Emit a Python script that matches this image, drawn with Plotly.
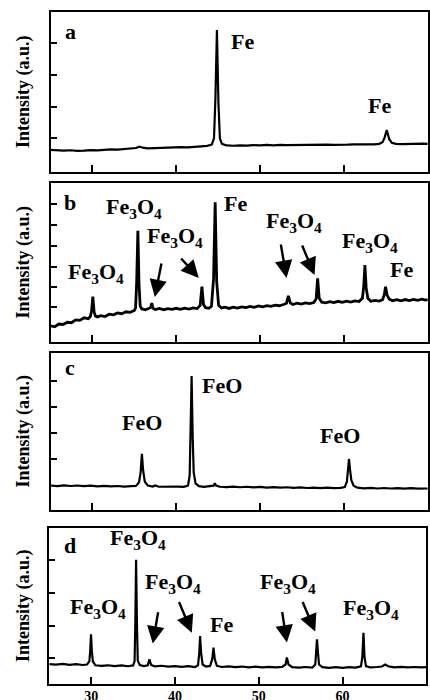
import plotly.graph_objects as go

# ---- XRD patterns, (2-theta in degrees, intensity in a.u.) ----
pattern_a = [
    (25.0, 13.8), (25.8, 13.5), (26.6, 13.3), (27.4, 13.6), (28.2, 13.2), (29.0, 13.4),
    (29.8, 13.7), (30.6, 13.5), (31.4, 13.9), (32.2, 14.1), (33.0, 14.0), (33.8, 14.3),
    (34.6, 14.5), (35.2, 15.0), (35.6, 15.9), (36.0, 15.2), (36.6, 14.8), (37.4, 15.0),
    (38.2, 14.9), (39.0, 15.3), (39.8, 15.2), (40.6, 15.5), (41.4, 15.4), (42.2, 15.7),
    (43.0, 15.9), (43.7, 16.3), (44.25, 17.2), (44.5, 21.0), (44.67, 46.0), (44.85, 88.7),
    (45.03, 43.0), (45.2, 21.0), (45.45, 17.6), (46.0, 16.6), (46.8, 16.4), (47.6, 16.7),
    (48.4, 16.5), (49.2, 16.8), (50.0, 16.6), (50.8, 16.9), (51.6, 16.7), (52.4, 17.0),
    (53.2, 16.8), (54.0, 16.9), (54.8, 17.1), (55.6, 16.9), (56.4, 17.2), (57.2, 17.0),
    (58.0, 17.1), (58.8, 16.9), (59.6, 17.2), (60.4, 17.1), (61.2, 17.3), (62.0, 17.2),
    (62.8, 17.4), (63.6, 17.3), (64.2, 17.6), (64.6, 18.6), (64.85, 21.5), (65.0, 24.5),
    (65.1, 26.2), (65.22, 24.0), (65.4, 20.5), (65.7, 18.3), (66.2, 17.6), (67.0, 17.4),
    (67.8, 17.6), (68.6, 17.5), (69.4, 17.7), (70.0, 17.6),
]

pattern_b = [
    (25.0, 10.2), (25.5, 9.6), (26.0, 11.3), (26.5, 11.0), (27.0, 12.4), (27.5, 12.1),
    (28.0, 13.9), (28.5, 13.6), (29.0, 15.2), (29.5, 14.7), (29.75, 16.0), (29.9, 19.5),
    (30.05, 28.5), (30.2, 19.0), (30.35, 16.4), (30.6, 15.8), (31.0, 16.6), (31.5, 16.0),
    (32.0, 17.5), (32.5, 17.1), (33.0, 18.3), (33.5, 17.8), (34.0, 19.0), (34.5, 18.7),
    (35.0, 19.8), (35.15, 21.5), (35.28, 38.0), (35.42, 70.0), (35.56, 36.0), (35.7, 22.5),
    (35.9, 20.8), (36.3, 20.2), (36.7, 21.0), (36.95, 21.8), (37.08, 24.5), (37.22, 21.2),
    (37.5, 20.4), (38.0, 21.1), (38.5, 20.3), (39.0, 21.0), (39.5, 20.5), (40.0, 21.2),
    (40.5, 20.6), (41.0, 21.3), (41.5, 20.7), (42.0, 21.4), (42.5, 21.0), (42.85, 23.0),
    (43.06, 34.8), (43.25, 23.5), (43.5, 21.6), (43.9, 21.2), (44.2, 22.5), (44.45, 40.0),
    (44.64, 87.8), (44.82, 38.0), (45.05, 23.0), (45.4, 21.4), (45.8, 21.9), (46.3, 21.1),
    (46.8, 21.9), (47.3, 21.3), (47.8, 22.1), (48.3, 21.6), (48.8, 22.4), (49.3, 21.8),
    (49.8, 22.7), (50.3, 22.1), (50.8, 22.9), (51.3, 22.4), (51.8, 23.2), (52.3, 22.8),
    (52.8, 23.6), (53.15, 24.4), (53.37, 29.0), (53.6, 24.6), (53.9, 23.6), (54.4, 24.4),
    (54.9, 23.8), (55.4, 24.6), (55.9, 24.1), (56.4, 24.8), (56.68, 27.0), (56.86, 40.0),
    (57.05, 27.5), (57.35, 25.0), (57.8, 24.6), (58.3, 25.4), (58.8, 24.8), (59.3, 25.6),
    (59.8, 25.0), (60.3, 25.7), (60.8, 25.1), (61.3, 25.8), (61.8, 25.5), (62.2, 27.5),
    (62.36, 35.0), (62.5, 48.4), (62.65, 34.0), (62.85, 27.5), (63.2, 25.6), (63.7, 26.2),
    (64.2, 25.7), (64.6, 26.6), (64.8, 29.5), (64.96, 34.8), (65.15, 29.5), (65.4, 27.0),
    (65.8, 26.0), (66.3, 26.6), (66.8, 25.9), (67.3, 26.7), (67.8, 26.1), (68.3, 26.8),
    (68.8, 26.2), (69.3, 26.9), (69.7, 26.3), (70.0, 26.6),
]

pattern_c = [
    (25.0, 15.6), (25.8, 15.2), (26.6, 15.7), (27.4, 15.3), (28.2, 15.6), (29.0, 15.2),
    (29.8, 15.5), (30.6, 15.1), (31.4, 15.4), (32.2, 15.0), (33.0, 15.3), (33.8, 14.9),
    (34.6, 15.2), (35.2, 15.3), (35.55, 17.5), (35.75, 24.0), (35.9, 35.7), (36.05, 25.0),
    (36.25, 18.0), (36.6, 15.6), (37.2, 14.9), (37.5, 15.6), (37.9, 14.8), (38.6, 14.9),
    (39.4, 14.6), (40.2, 14.9), (40.9, 14.7), (41.4, 15.5), (41.6, 22.0), (41.7, 45.0),
    (41.83, 85.4), (41.96, 46.0), (42.08, 24.0), (42.3, 17.0), (42.7, 15.2), (43.3, 14.7),
    (44.0, 14.9), (44.45, 15.5), (44.6, 17.0), (44.75, 15.6), (45.2, 14.8), (46.0, 14.6),
    (46.8, 14.9), (47.6, 14.5), (48.4, 14.8), (49.2, 14.4), (50.0, 14.7), (50.8, 14.3),
    (51.6, 14.6), (52.4, 14.2), (53.2, 14.5), (54.0, 14.1), (54.8, 14.4), (55.6, 14.0),
    (56.4, 14.3), (57.2, 13.9), (58.0, 14.2), (58.8, 13.9), (59.6, 14.1), (60.1, 14.6),
    (60.35, 18.0), (60.48, 25.0), (60.6, 32.5), (60.73, 25.5), (60.88, 19.0), (61.15, 15.5),
    (61.6, 14.2), (62.4, 13.8), (63.2, 14.1), (64.0, 13.7), (64.8, 14.0), (65.6, 13.7),
    (66.4, 13.9), (67.2, 13.6), (68.0, 13.9), (68.8, 13.6), (69.6, 13.8), (70.0, 13.7),
]

pattern_d = [
    (25.0, 12.8), (25.8, 12.4), (26.6, 12.9), (27.4, 12.3), (28.2, 12.7), (29.0, 12.2),
    (29.5, 12.5), (29.78, 14.5), (29.88, 21.0), (29.98, 31.8), (30.08, 21.0), (30.2, 14.5),
    (30.5, 12.0), (31.2, 11.6), (32.0, 12.0), (32.8, 11.5), (33.6, 11.9), (34.4, 11.4),
    (35.0, 11.9), (35.18, 14.5), (35.27, 40.0), (35.36, 79.6), (35.46, 39.0), (35.56, 15.0),
    (35.8, 12.2), (36.3, 11.5), (36.75, 12.0), (36.95, 15.9), (37.15, 12.2), (37.6, 11.3),
    (38.4, 11.7), (39.2, 11.1), (40.0, 11.5), (40.8, 11.0), (41.6, 11.4), (42.4, 10.9),
    (42.75, 12.0), (42.9, 20.0), (43.0, 30.8), (43.12, 20.0), (43.3, 12.5), (43.7, 11.2),
    (44.2, 11.6), (44.45, 16.0), (44.6, 23.4), (44.75, 16.0), (45.0, 11.6), (45.6, 10.9),
    (46.4, 11.3), (47.2, 10.8), (48.0, 11.2), (48.8, 10.7), (49.6, 11.1), (50.4, 10.6),
    (51.2, 11.0), (52.0, 10.6), (52.8, 11.0), (53.2, 12.5), (53.36, 17.0), (53.55, 12.5),
    (54.0, 10.8), (54.8, 10.5), (55.6, 10.9), (56.4, 10.5), (56.75, 12.5), (56.85, 20.0),
    (56.95, 28.7), (57.07, 20.0), (57.2, 12.5), (57.6, 10.8), (58.4, 10.4), (59.2, 10.8),
    (60.0, 10.4), (60.8, 10.8), (61.6, 10.5), (62.2, 11.3), (62.36, 17.0), (62.5, 32.9),
    (62.62, 17.5), (62.8, 11.5), (63.3, 10.6), (64.1, 10.9), (64.7, 11.2), (65.1, 12.5),
    (65.5, 11.3), (66.2, 10.7), (67.0, 11.0), (67.8, 10.6), (68.6, 10.9), (69.4, 10.6),
    (70.0, 10.8),
]

panel_letters = ["a", "b", "c", "d"]
x_ticks = [30, 40, 50, 60, 70]
x_tick_labels = ["30", "40", "50", "60", "70"]
y_ticks = [
    [21.4, 40.8, 60.6, 80.4],
    [21.8, 34.8, 47.4, 60.4, 73.6, 86.6],
    [32.5, 49.2, 65.8, 82.4],
    [16.6, 37.1, 58.4, 79.6],
]
FE3O4 = "Fe<sub>3</sub>O<sub>4</sub>"

# phase labels: (panel, text, 2-theta, intensity)
phase_labels = [
    (0, "Fe", 47.9, 81.4), (0, "Fe", 64.26, 41.4),
    (1, FE3O4, 30.4, 43.2), (1, FE3O4, 34.9, 84.1), (1, FE3O4, 39.9, 66.2),
    (1, "Fe", 47.1, 87.4), (1, FE3O4, 53.99, 75.7), (1, FE3O4, 63.13, 63.1),
    (1, "Fe", 66.9, 45.7),
    (2, "FeO", 35.95, 55.7), (2, "FeO", 45.42, 79.1), (2, "FeO", 59.56, 47.2),
    (3, FE3O4, 30.86, 48.8), (3, FE3O4, 35.63, 93.2), (3, FE3O4, 39.8, 64.8),
    (3, "Fe", 45.5, 38.2), (3, FE3O4, 53.46, 64.8), (3, FE3O4, 63.41, 47.8),
]

# pointer arrows: (panel, tail 2-theta, tail intensity, tip 2-theta, tip intensity)
pointer_arrows = [
    (1, 38.27, 50.3, 37.44, 28.3), (1, 40.42, 53.5, 42.68, 40.3),
    (1, 52.44, 62.3, 53.15, 40.3), (1, 54.94, 61.6, 56.49, 42.1),
    (3, 38.02, 47.0, 37.35, 25.9), (3, 40.41, 53.5, 42.01, 32.9),
    (3, 52.77, 47.1, 53.36, 26.6), (3, 55.16, 53.5, 56.74, 33.6),
]

# ---- figure geometry (pixels) ----
W, H = 430, 700
ML, MR, MT, MB = 49, 2, 12, 16
PW, PH = W - ML - MR, H - MT - MB
boxes = [  # left, right, top, bottom
    (50.5, 427.8, 12, 172),
    (50.5, 427.8, 183, 342),
    (50.5, 427.8, 353, 510),
    (49.3, 426.3, 528, 684),
]
letter_offsets = [19.7, 19.0, 14.0, 17.7]  # px below each panel's top edge

SERIF = "Liberation Serif"
fig = go.Figure()
patterns = [pattern_a, pattern_b, pattern_c, pattern_d]
widths = [2.2, 2.8, 2.2, 2.2]

layout = {}
annotations = []
for i, (pat, box) in enumerate(zip(patterns, boxes)):
    n = "" if i == 0 else str(i + 1)
    xa, ya = "x" + n, "y" + n
    fig.add_trace(go.Scatter(
        x=[p[0] for p in pat], y=[p[1] for p in pat], mode="lines",
        line=dict(color="black", width=widths[i]), xaxis=xa, yaxis=ya,
        showlegend=False, hoverinfo="skip",
    ))
    l, r, t, b = box
    layout["xaxis" + n] = dict(
        domain=[(l - ML) / PW, (r - ML) / PW], anchor=ya, range=[25, 70],
        showline=True, mirror=True, linecolor="black", linewidth=2,
        ticks="inside", ticklen=7, tickwidth=2, tickcolor="black",
        tickvals=x_ticks, ticktext=x_tick_labels, showticklabels=(i == 3),
        ticklabelstandoff=-2,
        tickfont=dict(family=SERIF, size=14, color="black", weight="bold"),
        showgrid=False, zeroline=False,
    )
    layout["yaxis" + n] = dict(
        domain=[(H - MB - b) / PH, (H - MB - t) / PH], anchor=xa, range=[0, 100],
        showline=True, mirror=True, linecolor="black", linewidth=2,
        ticks="inside", ticklen=6, tickwidth=2, tickcolor="black",
        tickvals=y_ticks[i], showticklabels=False,
        showgrid=False, zeroline=False,
    )
    annotations.append(dict(
        text="Intensity (a.u.)", textangle=-90, showarrow=False,
        xref="paper", x=(23 - ML) / PW, xanchor="center",
        yref=ya + " domain", y=0.5, yanchor="middle",
        font=dict(family=SERIF, size=18, color="black", weight="bold"),
    ))
    annotations.append(dict(
        text=panel_letters[i], showarrow=False,
        xref=xa + " domain", x=(70 - l) / (r - l), xanchor="center",
        yref=ya + " domain", y=1 - letter_offsets[i] / (b - t), yanchor="middle",
        font=dict(family=SERIF, size=22, color="black", weight="bold"),
    ))

for panel, text, tx, ty in phase_labels:
    n = "" if panel == 0 else str(panel + 1)
    annotations.append(dict(
        text=text, showarrow=False, xref="x" + n, yref="y" + n, x=tx, y=ty,
        xanchor="center", yanchor="middle",
        font=dict(family=SERIF, size=22, color="black", weight="bold"),
    ))

for panel, x0, y0, x1, y1 in pointer_arrows:
    n = "" if panel == 0 else str(panel + 1)
    annotations.append(dict(
        text="", showarrow=True, xref="x" + n, yref="y" + n,
        axref="x" + n, ayref="y" + n, x=x1, y=y1, ax=x0, ay=y0,
        arrowhead=2, arrowsize=1.45, arrowwidth=2.4, arrowcolor="black",
        standoff=0, startstandoff=0,
    ))

fig.update_layout(
    width=W, height=H, margin=dict(l=ML, r=MR, t=MT, b=MB, autoexpand=False),
    paper_bgcolor="white", plot_bgcolor="white",
    font=dict(family=SERIF, color="black"),
    annotations=annotations, **layout,
)

fig.write_html("out.html", config={"displayModeBar": False})
